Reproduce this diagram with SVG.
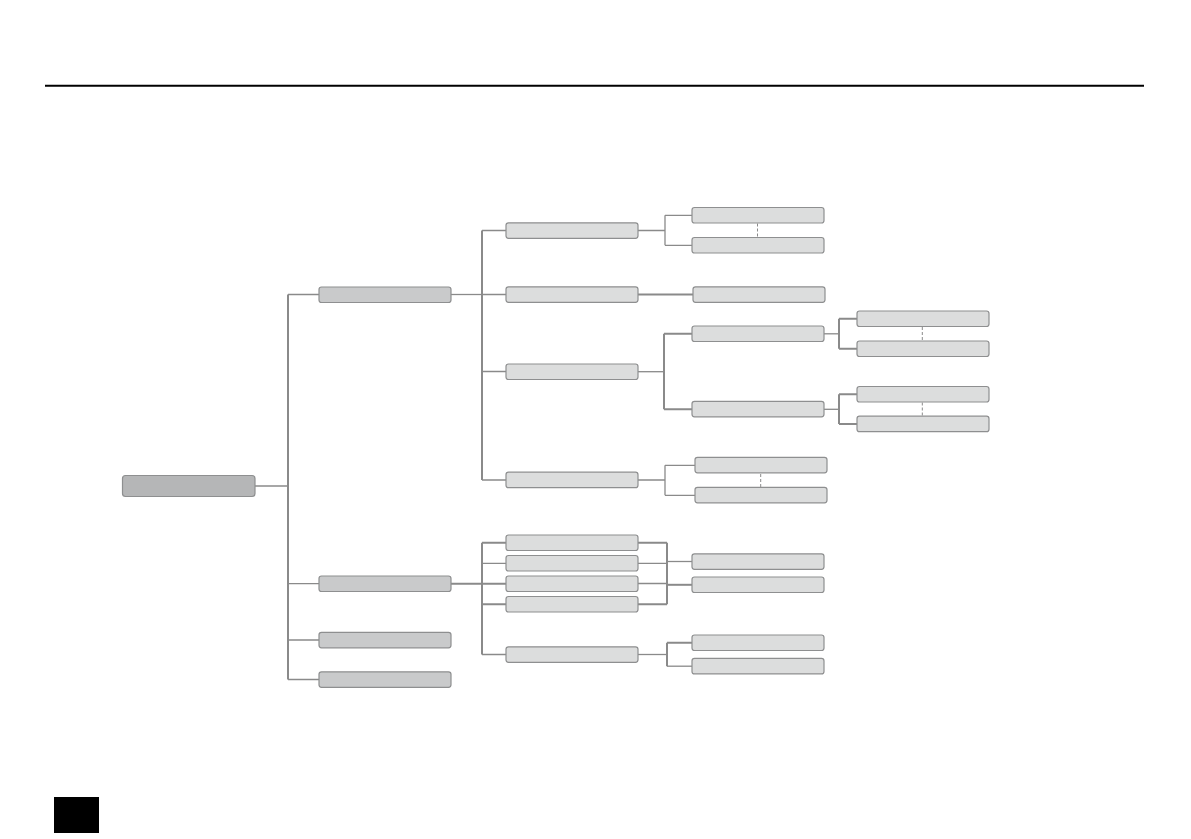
<svg xmlns="http://www.w3.org/2000/svg" width="1191" height="839" viewBox="0 0 1191 839">
<style>
.n{stroke:#8e8f90;stroke-width:1.2}
.r{fill:#b5b6b7}
.l1{fill:#c9cacb}
.l2{fill:#dcdddd}
.c{fill:none;stroke:#8a8a8a;stroke-width:1.3}
.t{fill:none;stroke:#8a8a8a;stroke-width:2}
.d{fill:none;stroke:#8a8a8a;stroke-width:1;stroke-dasharray:3 2}
</style>
<rect width="1191" height="839" fill="#ffffff"/>
<line x1="45" y1="85.8" x2="1144" y2="85.8" stroke="#000" stroke-width="2"/>
<rect x="54" y="797" width="45" height="36" fill="#000"/>
<g id="connectors">
<path class="c" d="M255 486H288"/>
<path class="t" d="M288 294.5V679.5"/>
<path class="c" d="M288 294.5H319M288 583.7H319M288 640H319M288 679.5H319"/>
<path class="c" d="M451 294.5H482"/>
<path class="t" d="M482 230.5V480"/>
<path class="c" d="M482 230.5H506M482 294.5H506M482 371.5H506M482 480H506"/>
<path class="c" d="M638 230.5H665M665 215.3V245.3M665 215.3H692M665 245.3H692"/>
<path class="d" d="M757.5 223.5V237.5"/>
<path class="t" d="M638 294.5H693"/>
<path class="c" d="M638 371.7H664"/>
<path class="t" d="M664 333.8V409.3M664 333.8H692M664 409.3H692"/>
<path class="c" d="M824 333.8H839"/>
<path class="t" d="M839 318.8V348.8M839 318.8H857M839 348.8H857"/>
<path class="d" d="M922.3 327V340.5"/>
<path class="c" d="M824 409.3H839"/>
<path class="t" d="M839 394.3V424M839 394.3H857M839 424H857"/>
<path class="d" d="M922.3 402.5V416"/>
<path class="c" d="M638 480H665M665 465.3V495.3M665 465.3H695M665 495.3H695"/>
<path class="d" d="M760.7 474V487"/>
<path class="t" d="M451 583.7H506"/>
<path class="t" d="M482 542.8V654.5"/>
<path class="t" d="M482 542.8H506M482 604.3H506"/>
<path class="c" d="M482 563.3H506M482 654.5H506"/>
<path class="t" d="M638 542.8H667M638 604.3H667M667 542.8V604.3"/>
<path class="c" d="M638 563.3H667M638 583.5H667"/>
<path class="c" d="M667 561.5H692"/>
<path class="t" d="M667 584.8H692"/>
<path class="c" d="M638 654.5H667"/>
<path class="t" d="M667 642.8V666.2M667 642.8H692"/>
<path class="c" d="M667 666.2H692"/>
</g>
<g id="root"><rect class="n r" x="122.5" y="475.5" width="132.5" height="21" rx="3"/></g>
<g id="l1-a"><rect class="n l1" x="319" y="287" width="132" height="15.5" rx="2.5"/></g>
<g id="l1-b"><rect class="n l1" x="319" y="576" width="132" height="15.5" rx="2.5"/></g>
<g id="l1-c"><rect class="n l1" x="319" y="632.3" width="132" height="15.5" rx="2.5"/></g>
<g id="l1-d"><rect class="n l1" x="319" y="671.8" width="132" height="15.5" rx="2.5"/></g>
<g id="a1"><rect class="n l2" x="506" y="222.8" width="132" height="15.5" rx="2.5"/></g>
<g id="a2"><rect class="n l2" x="506" y="286.8" width="132" height="15.5" rx="2.5"/></g>
<g id="a3"><rect class="n l2" x="506" y="364" width="132" height="15.5" rx="2.5"/></g>
<g id="a4"><rect class="n l2" x="506" y="472.2" width="132" height="15.5" rx="2.5"/></g>
<g id="a1a"><rect class="n l2" x="692" y="207.5" width="132" height="15.5" rx="2.5"/></g>
<g id="a1b"><rect class="n l2" x="692" y="237.5" width="132" height="15.5" rx="2.5"/></g>
<g id="a2a"><rect class="n l2" x="693" y="286.8" width="132" height="15.5" rx="2.5"/></g>
<g id="a3a"><rect class="n l2" x="692" y="326" width="132" height="15.5" rx="2.5"/></g>
<g id="a3b"><rect class="n l2" x="692" y="401.3" width="132" height="15.5" rx="2.5"/></g>
<g id="a3a1"><rect class="n l2" x="857" y="311" width="132" height="15.5" rx="2.5"/></g>
<g id="a3a2"><rect class="n l2" x="857" y="341" width="132" height="15.5" rx="2.5"/></g>
<g id="a3b1"><rect class="n l2" x="857" y="386.5" width="132" height="15.5" rx="2.5"/></g>
<g id="a3b2"><rect class="n l2" x="857" y="416.2" width="132" height="15.5" rx="2.5"/></g>
<g id="a4a"><rect class="n l2" x="695" y="457.3" width="132" height="15.5" rx="2.5"/></g>
<g id="a4b"><rect class="n l2" x="695" y="487.3" width="132" height="15.5" rx="2.5"/></g>
<g id="b1"><rect class="n l2" x="506" y="535" width="132" height="15.5" rx="2.5"/></g>
<g id="b2"><rect class="n l2" x="506" y="555.5" width="132" height="15.5" rx="2.5"/></g>
<g id="b3"><rect class="n l2" x="506" y="576" width="132" height="15.5" rx="2.5"/></g>
<g id="b4"><rect class="n l2" x="506" y="596.5" width="132" height="15.5" rx="2.5"/></g>
<g id="b5"><rect class="n l2" x="506" y="646.8" width="132" height="15.5" rx="2.5"/></g>
<g id="br1"><rect class="n l2" x="692" y="553.8" width="132" height="15.5" rx="2.5"/></g>
<g id="br2"><rect class="n l2" x="692" y="577" width="132" height="15.5" rx="2.5"/></g>
<g id="b5a"><rect class="n l2" x="692" y="635" width="132" height="15.5" rx="2.5"/></g>
<g id="b5b"><rect class="n l2" x="692" y="658.4" width="132" height="15.5" rx="2.5"/></g>
</svg>
